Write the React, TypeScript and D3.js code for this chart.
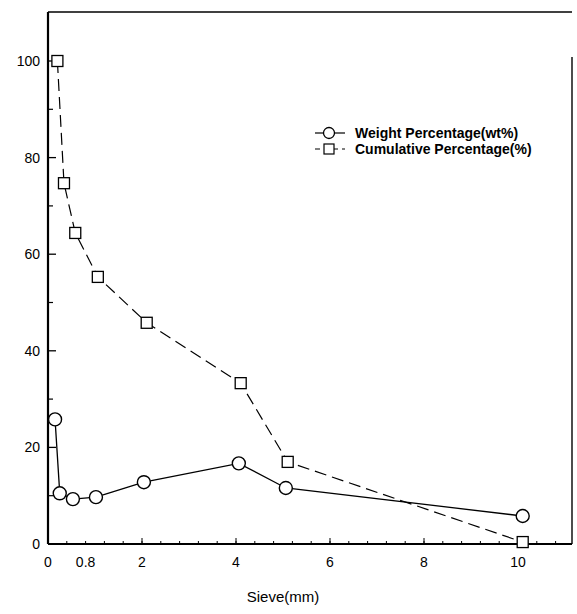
import React from 'react';
import * as d3 from 'd3';

// sieve sizes (mm)
const weightSieve = [0.15, 0.25, 0.53, 1.02, 2.04, 4.06, 5.06, 10.1];
const weightPct = [25.8, 10.5, 9.3, 9.7, 12.8, 16.7, 11.6, 5.8];

const cumSieve = [0.2, 0.34, 0.58, 1.06, 2.1, 4.1, 5.1, 10.1];
const cumPct = [100, 74.7, 64.4, 55.3, 45.8, 33.3, 17, 0.4];

const yTicks = [0, 20, 40, 60, 80, 100];
const yMinor = [10, 30, 50, 70, 90];
const xTicks = [0, 0.8, 2, 4, 6, 8, 10];
const xMajor = [2, 4, 6, 8, 10];
const xMinor = d3.range(0, 11.2, 0.4);

const font = 'Arial, "Liberation Sans", sans-serif';

const App = () => {
  const x = d3.scaleLinear().domain([0, 10]).range([48, 518]);
  const y = d3.scaleLinear().domain([0, 100]).range([544, 61]);

  const left = x(0);
  const right = 572;
  const bottom = y(0);
  const top = 12;

  const line = d3.line<[number, number]>().x(d => x(d[0])).y(d => y(d[1]));
  const weightData: [number, number][] = weightSieve.map((s, i) => [s, weightPct[i]]);
  const cumData: [number, number][] = cumSieve.map((s, i) => [s, cumPct[i]]);

  return (
    <svg width={577} height={614} style={{ position: 'absolute', left: 0, top: 0, background: '#fff' }}>
      {/* frame */}
      <line x1={left} y1={top} x2={right} y2={top} stroke="#000" strokeWidth={1.5} />
      <line x1={left} y1={top} x2={left} y2={bottom} stroke="#000" strokeWidth={2.2} />
      <line x1={left} y1={bottom} x2={right} y2={bottom} stroke="#000" strokeWidth={1.8} />
      <line x1={right} y1={57} x2={right} y2={bottom} stroke="#000" strokeWidth={1.4} />

      {/* y ticks */}
      {yTicks.map(t => (
        <g key={'y' + t}>
          <line x1={left} x2={left + 8} y1={y(t)} y2={y(t)} stroke="#000" strokeWidth={1.3} />
          <text x={left - 8} y={y(t)} dy="0.35em" textAnchor="end" fontFamily={font} fontSize={14}>{t}</text>
        </g>
      ))}
      {yMinor.map(t => (
        <line key={'ym' + t} x1={left} x2={left + 5} y1={y(t)} y2={y(t)} stroke="#000" strokeWidth={1.2} />
      ))}

      {/* x ticks */}
      {xMinor.map((t, i) => (
        <line key={'xm' + i} x1={x(t)} x2={x(t)} y1={bottom} y2={bottom - 3} stroke="#000" strokeWidth={1} />
      ))}
      {xMajor.map(t => (
        <line key={'xt' + t} x1={x(t)} x2={x(t)} y1={bottom} y2={bottom - 6} stroke="#000" strokeWidth={1} />
      ))}
      {xTicks.map(t => (
        <text key={'xl' + t} x={x(t)} y={bottom + 23} textAnchor="middle" fontFamily={font} fontSize={14}>{t}</text>
      ))}
      <text x={283} y={602} textAnchor="middle" fontFamily={font} fontSize={15}>Sieve(mm)</text>

      {/* series */}
      <path d={line(cumData) || ''} fill="none" stroke="#000" strokeWidth={1.2} strokeDasharray="12,6" />
      <path d={line(weightData) || ''} fill="none" stroke="#000" strokeWidth={1.3} />
      {weightData.map((d, i) => (
        <circle key={'c' + i} cx={x(d[0])} cy={y(d[1])} r={6.5} fill="#fff" stroke="#000" strokeWidth={1.4} />
      ))}
      {cumData.map((d, i) => (
        <rect key={'s' + i} x={x(d[0]) - 5.5} y={y(d[1]) - 5.5} width={11} height={11} fill="#fff" stroke="#000" strokeWidth={1.3} />
      ))}

      {/* legend */}
      <g fontFamily={font} fontSize={14} fontWeight="bold">
        <line x1={315} x2={345} y1={133} y2={133} stroke="#000" strokeWidth={1.2} />
        <circle cx={329} cy={133} r={5.5} fill="#fff" stroke="#000" strokeWidth={1.3} />
        <text x={355} y={133} dy="0.35em">Weight Percentage(wt%)</text>
        <line x1={315} x2={345} y1={149} y2={149} stroke="#000" strokeWidth={1.2} strokeDasharray="5,4" />
        <rect x={324} y={144} width={10} height={10} fill="#fff" stroke="#000" strokeWidth={1.2} />
        <text x={355} y={149} dy="0.35em">Cumulative Percentage(%)</text>
      </g>
    </svg>
  );
};

export default App;
